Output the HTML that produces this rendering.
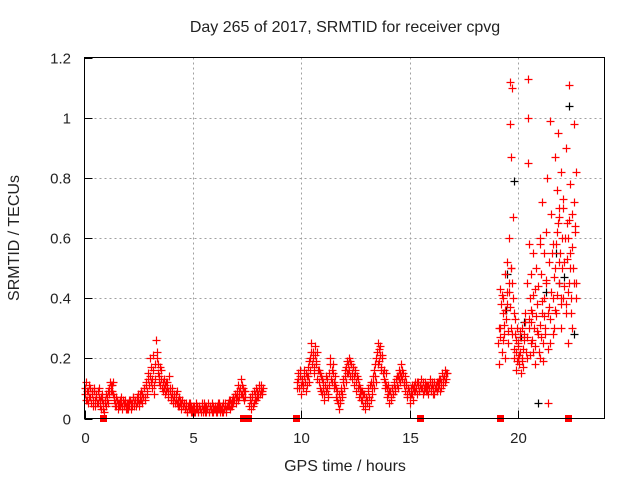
<!DOCTYPE html>
<html><head><meta charset="utf-8"><style>
body{margin:0;background:#fff;width:640px;height:480px;overflow:hidden}
svg text{font-family:"Liberation Sans",sans-serif;font-size:15px;fill:#222}
</style></head><body>
<svg id="chart" width="640" height="480" viewBox="0 0 640 480">
<text x="345" y="32" text-anchor="middle" style="font-size:16px">Day 265 of 2017, SRMTID for receiver cpvg</text>
<text x="345" y="471" text-anchor="middle" style="font-size:16px">GPS time / hours</text>
<text x="19" y="238" text-anchor="middle" style="font-size:16px" transform="rotate(-90 19 238)">SRMTID / TECUs</text>
<g id="grid"></g><g id="ticks"></g><g id="marks"></g>
<rect x="84.5" y="57.5" width="520" height="361" fill="none" stroke="#000" stroke-width="1"/>
</svg>
<script>
const xTicks=[0,5,10,15,20];
const yTicks=[0,0.2,0.4,0.6,0.8,1,1.2];
const yTickLabels=["0","0.2","0.4","0.6","0.8","1","1.2"];
const seg1Start=0, seg2Start=7.6, seg3Start=9.8, step=0.05, offB=0.025;
const seg1=[.08,.12,.06,.09,.07,.1,.05,.08,.06,.09,.04,.07,.05,.1,.06,.03,.08,.05,.02,.06,
.04,.07,.05,.1,.11,.09,.12,.07,.05,.04,.06,.03,.05,.04,.07,.03,.05,.06,.04,.03,
.05,.04,.06,.03,.05,.07,.04,.06,.05,.08,.04,.06,.09,.05,.07,.1,.06,.12,.08,.15,
.2,.12,.1,.16,.08,.13,.26,.22,.18,.14,.11,.16,.09,.13,.08,.12,.1,.07,.14,.09,
.06,.1,.05,.08,.06,.09,.04,.07,.05,.03,.06,.04,.05,.03,.04,.02,.05,.03,.04,.02,
.03,.04,.02,.05,.03,.02,.04,.03,.05,.02,.03,.04,.02,.03,.05,.02,.04,.03,.02,.04,
.03,.02,.04,.03,.05,.02,.03,.04,.02,.03,.05,.03,.04,.06,.03,.05,.04,.07,.06,.08,
.05,.09,.11,.07,.13,.08,.1,.06,.09];
const seg1b=[.1,.06,.09,.05,.11,.07,.09,.04,.1,.06,.08,.05,.09,.07,.04,.07,.06,.03,.05,.08,
.06,.09,.08,.12,.09,.11,.08,.06,.04,.07,.05,.04,.06,.05,.04,.06,.04,.05,.03,.05,
.03,.06,.05,.04,.07,.05,.06,.04,.07,.06,.05,.08,.06,.08,.1,.07,.11,.09,.13,.11,
.14,.17,.13,.21,.11,.18,.2,.15,.12,.17,.13,.1,.12,.1,.11,.09,.12,.09,.1,.07,
.08,.06,.07,.05,.08,.05,.06,.04,.06,.05,.04,.05,.03,.05,.02,.04,.03,.05,.02,.03,
.04,.02,.03,.04,.02,.04,.03,.02,.04,.03,.05,.02,.04,.03,.02,.04,.03,.05,.02,.03,
.04,.03,.02,.05,.03,.04,.02,.05,.03,.04,.02,.04,.05,.04,.06,.04,.06,.05,.08,.07,
.07,.06,.09,.1,.08,.11,.07,.09,.07];
const seg2=[.04,.06,.03,.07,.05,.08,.06,.09,.07,.1,.08,.11,.09];
const seg2b=[.07,.05,.08,.04,.09,.06,.1,.07,.08,.11,.09,.08,.1];
const seg3=[.12,.15,.1,.14,.08,.13,.11,.16,.09,.14,
.17,.12,.2,.25,.18,.22,.15,.24,.19,.13,
.16,.1,.14,.08,.12,.06,.11,.09,.13,.07,
.15,.2,.12,.18,.1,.14,.07,.09,.05,.03,
.06,.1,.08,.13,.16,.12,.19,.15,.2,.14,
.18,.13,.17,.11,.15,.09,.13,.07,.1,.06,
.09,.04,.08,.03,.07,.05,.1,.04,.12,.08,
.14,.1,.18,.12,.22,.25,.19,.24,.16,.21,
.13,.1,.15,.07,.11,.05,.09,.06,.1,.08,
.12,.09,.14,.1,.16,.12,.18,.13,.15,.11,
.09,.12,.07,.1,.05,.08,.11,.06,.09,.12,
.1,.08,.12,.09,.11,.13,.08,.1,.12,.09,
.11,.08,.1,.13,.09,.12,.1,.08,.11,.09,
.1,.13,.09,.12,.15,.11,.14,.16,.13];
const seg3b=[.1,.13,.16,.11,.12,.1,.14,.12,.15,.11,
.14,.19,.16,.22,.2,.17,.21,.18,.22,.16,
.12,.15,.09,.13,.1,.08,.14,.1,.08,.11,
.18,.13,.16,.15,.12,.11,.1,.06,.08,.05,
.09,.07,.12,.1,.14,.17,.15,.18,.16,.19,
.15,.17,.14,.16,.12,.14,.1,.11,.08,.09,
.06,.08,.05,.07,.06,.09,.07,.11,.06,.1,
.12,.16,.14,.2,.18,.23,.21,.17,.2,.15,
.16,.12,.11,.1,.08,.09,.07,.1,.08,.11,
.1,.13,.11,.14,.13,.15,.14,.16,.12,.14,
.11,.08,.1,.09,.07,.1,.08,.1,.11,.09,
.12,.11,.09,.11,.1,.1,.12,.09,.1,.11,
.09,.11,.12,.1,.11,.08,.12,.1,.1,.12,
.12,.11,.13,.1,.13,.14,.12,.15,.15];
const scatT=[19.1,19.15,19.2,19.2,19.25,19.3,19.3,19.35,19.4,19.4,19.45,19.5,19.5,19.55,19.6,19.6,19.62,19.65,19.68,19.7,19.7,19.72,19.75,19.78,19.8,19.8,19.85,19.9,19.9,19.95,20,20,20.05,20.1,20.1,20.15,20.2,20.2,20.25,20.3,20.35,20.4,20.4,20.45,20.45,20.48,20.5,20.5,20.55,20.6,20.6,20.65,20.7,20.7,20.75,20.8,20.8,20.85,20.9,20.95,21,21,21.05,21.1,21.1,21.15,21.2,21.2,21.25,21.3,21.3,21.35,21.4,21.45,21.5,21.5,21.55,21.6,21.6,21.65,21.7,21.7,21.75,21.8,21.8,21.85,21.9,21.9,21.95,22,22,22.05,22.1,22.1,22.15,22.2,22.2,22.25,22.3,22.3,22.35,22.4,22.4,22.45,22.5,22.5,22.55,22.6,22.6,22.65,22.7,22.7,21.0,21.4,21.9,22.0,22.35,20.6,
19.12,19.18,19.22,19.28,19.33,19.38,19.43,19.48,19.53,19.58,19.63,19.67,19.73,19.77,19.83,19.88,19.93,19.97,20.02,20.07,20.12,20.17,20.22,20.27,20.32,20.37,20.42,20.52,20.57,20.62,20.67,20.72,20.77,20.82,20.87,20.92,20.97,21.02,21.07,21.12,21.17,21.22,21.27,21.32,21.37,21.42,21.47,21.52,21.57,21.62,21.67,21.72,21.77,21.82,21.87,21.92,21.97,22.02,22.07,22.12,22.17,22.22,22.27,22.32,22.37,22.42,22.47,22.52,22.57,22.62,22.67];
const scatV=[.25,.18,.43,.3,.22,.35,.4,.28,.48,.2,.33,.52,.38,.25,.6,.42,.98,1.12,.87,.5,.3,1.1,.45,.67,.35,.2,.28,.16,.22,.3,.2,.25,.18,.27,.22,.15,.3,.19,.23,.28,.35,.45,.2,1.13,1.0,.85,.58,.3,.4,.25,.48,.35,.22,.55,.3,.43,.18,.5,.38,.28,.6,.2,.48,.35,.72,.25,.55,.4,.3,.62,.45,.8,.35,.52,.99,.25,.68,.4,.58,.3,.87,.5,.35,.76,.62,.95,.45,.7,.55,.82,.3,.6,.4,.73,.52,.9,.35,.65,.25,.6,.45,.78,.55,.4,.68,.3,.5,.98,.72,.62,.82,.45,.58,.05,.67,.4,1.11,.32,
.3,.27,.38,.41,.26,.31,.36,.42,.29,.45,.37,.5,.28,.4,.23,.33,.26,.19,.24,.21,.29,.2,.17,.26,.32,.22,.27,.33,.21,.36,.26,.41,.24,.34,.29,.44,.22,.31,.27,.39,.19,.34,.28,.46,.23,.37,.33,.42,.55,.28,.47,.36,.58,.41,.65,.52,.38,.5,.7,.44,.6,.38,.53,.42,.66,.5,.35,.57,.45,.64,.4];
const blackT=[19.8,20.95,21.9,22.35,22.6,19.5,20.3,19.45,20.15,21.3,21.75,22.15];
const blackV=[.79,.05,.45,1.04,.28,.48,.32,.36,.27,.42,.55,.47];
const gapT=[0.85,7.3,7.55,9.75,15.5,19.2,22.3];

const X0=84.5,X1=604.5,Y0=418.5,Y1=57.5;
const sx=t=>X0+(t/24)*(X1-X0);
const sy=v=>Y0-(v/1.2)*(Y0-Y1);
const NS="http://www.w3.org/2000/svg";
const grid=document.getElementById('grid'),ticks=document.getElementById('ticks'),marks=document.getElementById('marks');
function mk(tag,attrs,parent){const e=document.createElementNS(NS,tag);for(const k in attrs)e.setAttribute(k,attrs[k]);parent.appendChild(e);return e;}
yTicks.forEach((v,i)=>{
  const y=Math.round(sy(v))+0.5;
  if(i>0&&i<yTicks.length-1){const g=mk('line',{x1:X0,x2:X1,y1:y,y2:y,stroke:'#a0a0a0','stroke-dasharray':'2,3'},grid);
  
  }
  const tk=mk('line',{x1:X0,x2:X0+8,y1:y,y2:y,stroke:'#000'},ticks);
  
  
  const tx=mk('text',{x:71,y:y+5,'text-anchor':'end'},ticks);tx.textContent=yTickLabels[i];
  
  
});
xTicks.forEach(t=>{
  const x=Math.round(sx(t))+0.5;
  if(t>0){const g=mk('line',{x1:x,x2:x,y1:Y1,y2:Y0,stroke:'#a0a0a0','stroke-dasharray':'2,3'},grid);
  
  }
  const tk=mk('line',{x1:x,x2:x,y1:Y0,y2:Y0-8,stroke:'#000'},ticks);
  
  
  const tx=mk('text',{x:x,y:443,'text-anchor':'middle'},ticks);tx.textContent=String(t);
  
  
});
function plus(t,v,col){
  const x=Math.round(sx(t))+0.5,y=Math.round(sy(v))+0.5;
  const p=mk('path',{d:`M${x-4},${y}H${x+4}M${x},${y-4}V${y+4}`,stroke:col,'stroke-width':1.2,fill:'none'},marks);
  
  
}
blackT.forEach((t,i)=>plus(t,blackV[i],'#000'));
seg1.forEach((v,i)=>plus(seg1Start+i*step,v,'#f00'));
seg1b.forEach((v,i)=>plus(seg1Start+offB+i*step,v,'#f00'));
seg2.forEach((v,i)=>plus(seg2Start+i*step,v,'#f00'));
seg2b.forEach((v,i)=>plus(seg2Start+offB+i*step,v,'#f00'));
seg3.forEach((v,i)=>plus(seg3Start+i*step,v,'#f00'));
seg3b.forEach((v,i)=>plus(seg3Start+offB+i*step,v,'#f00'));
scatT.forEach((t,i)=>plus(t,scatV[i],'#f00'));
gapT.forEach(t=>{
  const r=mk('rect',{x:Math.round(sx(t))-3,y:415,width:7,height:7,fill:'#f00'},marks);
  
  
});
</script>
</body></html>
